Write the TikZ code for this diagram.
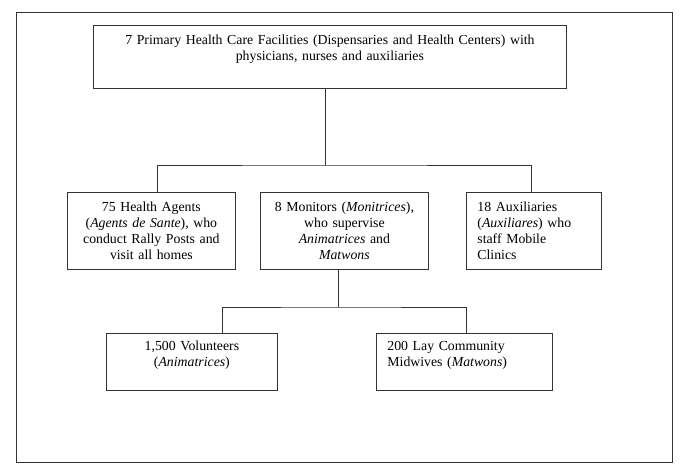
\documentclass[tikz,border=0pt]{standalone}
\usepackage{fontspec}
\setmainfont{Liberation Serif}
\tikzset{
  orgbox/.style={draw=black!80,line width=0.8pt,rectangle,anchor=north west,inner xsep=11pt,inner ysep=0pt,font=\fontsize{13.8}{16}\selectfont},
  link/.style={draw=black!80,line width=0.8pt}
}
\begin{document}
\begin{tikzpicture}[x=1pt,y=-1pt]
\useasboundingbox(0,0)rectangle(685,473);
\draw[link](16,12)rectangle(672,462);
% top level
\node[orgbox,text width=451pt,minimum height=63pt,align=center](top)at(93,25){7 Primary Health Care Facilities (Dispensaries and Health Centers) with\\physicians, nurses and auxiliaries\\[2pt]\mbox{}};
% second level
\node[orgbox,text width=146pt,minimum height=77pt,align=center](agents)at(67,192){75 Health Agents\\(\textit{Agents de Sante}), who\\conduct Rally Posts and\\visit all homes};
\node[orgbox,text width=146pt,minimum height=77pt,align=center](monitors)at(260,192){8 Monitors (\textit{Monitrices}),\\who supervise\\\textit{Animatrices} and\\\textit{Matwons}};
\node[orgbox,text width=113pt,minimum height=77pt,align=left](aux)at(466,192){18 Auxiliaries\\(\textit{Auxiliares}) who\\staff Mobile\\Clinics};
% third level
\node[orgbox,text width=149pt,minimum height=57pt,align=center](vols)at(106,333){1,500 Volunteers\\(\textit{Animatrices})\\\mbox{}};
\node[orgbox,text width=154pt,minimum height=57pt,align=left](midwives)at(376,333){200 Lay Community\\Midwives (\textit{Matwons})\\\mbox{}};
% connectors
\coordinate(split)at(325,165);
\draw[link](top.south-|split)--(split);
\draw[link]([xshift=6pt]agents.north)|-(split)-|([xshift=-2.5pt]aux.north);
\coordinate(split2)at(338,307);
\draw[link](monitors.south-|split2)--(split2);
\draw[link]([xshift=30.5pt]vols.north)|-(split2)-|([xshift=2pt]midwives.north);
\end{tikzpicture}
\end{document}
